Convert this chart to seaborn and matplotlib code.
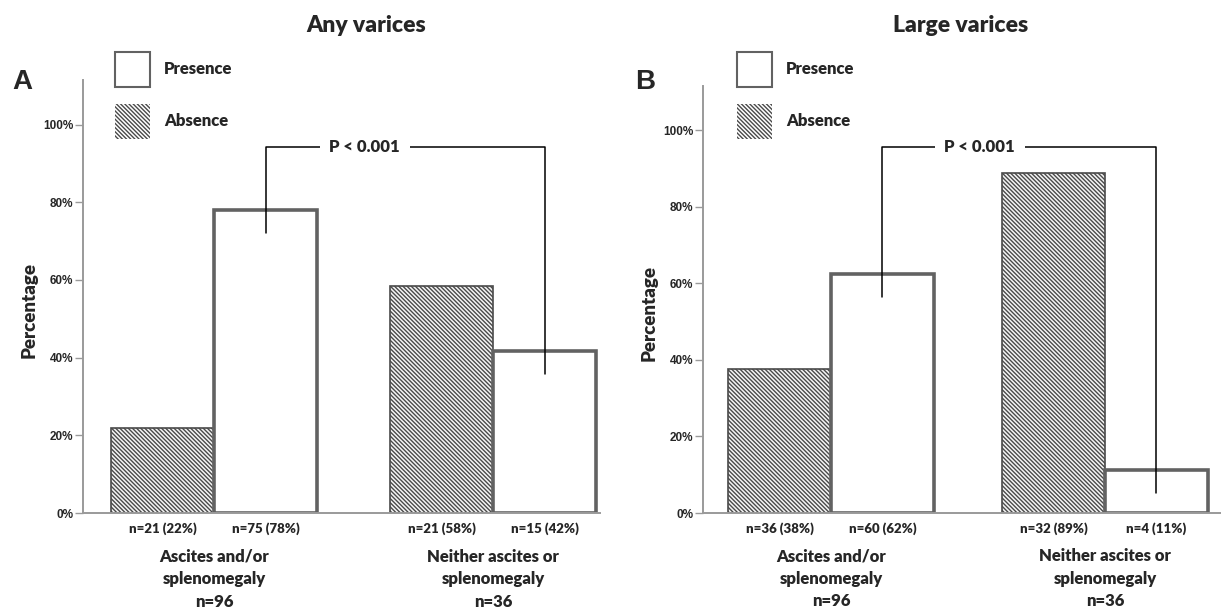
import matplotlib
matplotlib.use("Agg")
import matplotlib.pyplot as plt
import matplotlib.transforms as mtransforms
from matplotlib.patches import Patch
import pandas as pd
import seaborn as sns

# ---- data -------------------------------------------------------------
group_keys = ["Ascites and/or splenomegaly", "Neither ascites or splenomegaly"]
group_labels = ["Ascites and/or\nsplenomegaly\nn=96", "Neither ascites or\nsplenomegaly\nn=36"]
group_totals = [96, 36]
statuses = ["Absence", "Presence"]

any_absence = [21, 21]
any_presence = [75, 15]
large_absence = [36, 32]
large_presence = [60, 4]

panel_titles = ["Any varices", "Large varices"]
panel_letters = ["A", "B"]
p_value_text = "P < 0.001"
y_ticks = [0, 20, 40, 60, 80, 100]


def build_frame(absence, presence):
    rows = []
    for key, total, a, p in zip(group_keys, group_totals, absence, presence):
        for status, n in (("Absence", a), ("Presence", p)):
            pct = 100.0 * n / total
            rows.append({"group": key, "status": status, "n": n, "pct": pct,
                         "label": f"n={n} ({round(pct)}%)"})
    return pd.DataFrame(rows)


frames = [build_frame(any_absence, any_presence),
          build_frame(large_absence, large_presence)]

# ---- style ------------------------------------------------------------
sns.set_style("white")
plt.rcParams["font.family"] = ["Lato", "DejaVu Sans"]
plt.rcParams["font.weight"] = "heavy"
plt.rcParams["hatch.linewidth"] = 1.0
plt.rcParams["hatch.color"] = "#4a4a4a"

W, H = 1221, 610
fig = plt.figure(figsize=(W / 100, H / 100), dpi=100)

HATCH = "\\" * 8
ABS_EDGE = "#4a4a4a"
PRES_EDGE = "#626262"
SPINE = "#9a9a9a"
WEIGHT = "heavy"

# panel geometry in pixels: left, right, top, bottom of axes; x-limits; bar width
panels = [
    dict(left=83, right=600, top=80, bottom=513, xlim=(-0.4695, 1.383), width=0.74,
         title_x=366, letter_x=22, legend_x=115, bracket_y=94.3),
    dict(left=703, right=1221, top=86, bottom=513, xlim=(-0.467, 1.423), width=0.75,
         title_x=961, letter_x=645, legend_x=737, bracket_y=95.5),
]

for df, geo, title, letter in zip(frames, panels, panel_titles, panel_letters):
    ax = fig.add_axes([geo["left"] / W, 1 - geo["bottom"] / H,
                       (geo["right"] - geo["left"]) / W,
                       (geo["bottom"] - geo["top"]) / H])
    sns.barplot(data=df, x="group", y="pct", hue="status", order=group_keys,
                hue_order=statuses, palette={"Absence": "white", "Presence": "white"},
                saturation=1, width=geo["width"], errorbar=None, legend=False, ax=ax)

    absence_bars, presence_bars = ax.containers[0], ax.containers[1]
    for bar in absence_bars:
        bar.set_facecolor("#f4f4f4")
        bar.set_edgecolor(ABS_EDGE)
        bar.set_hatch(HATCH)
        bar.set_linewidth(1.2)
    for bar in presence_bars:
        bar.set_facecolor("white")
        bar.set_edgecolor(PRES_EDGE)
        bar.set_linewidth(2.6)

    ax.set_xlim(*geo["xlim"])
    ax.set_ylim(0, 111.5)

    # per-bar count labels become the x tick labels
    centers, labels = [], []
    for gi, key in enumerate(group_keys):
        for container, status in zip((absence_bars, presence_bars), statuses):
            bar = container[gi]
            centers.append(bar.get_x() + bar.get_width() / 2)
            labels.append(df[(df.group == key) & (df.status == status)]["label"].iloc[0])
    ax.set_xticks(centers, labels)
    ax.tick_params(axis="x", length=0, pad=7, labelsize=9.5)
    for lab in ax.get_xticklabels():
        lab.set_fontweight(WEIGHT)
    ax.set_xlabel("")

    ax.set_yticks(y_ticks, [f"{t}%" for t in y_ticks])
    ax.tick_params(axis="y", length=6, width=1, color=SPINE, pad=1, labelsize=8.5,
                   left=True)
    for lab in ax.get_yticklabels():
        lab.set_fontfamily(["Liberation Sans Narrow", "Liberation Sans", "DejaVu Sans"])
        lab.set_fontweight("bold")

    sns.despine(ax=ax, top=True, right=True)
    for side in ("left", "bottom"):
        ax.spines[side].set_color(SPINE)
        ax.spines[side].set_linewidth(1.4)

    ax.set_ylabel("Percentage", fontsize=13.5, fontweight=WEIGHT)
    ax.yaxis.set_label_coords(-0.088, 0.469)

    # group captions under the count labels
    blend = mtransforms.blended_transform_factory(ax.transData, ax.transAxes)
    for gi, text in enumerate(group_labels):
        ax.text(gi, -0.083, text, transform=blend, ha="center", va="top",
                fontsize=12, fontweight=WEIGHT, linespacing=1.5)

    # significance bracket between the two "Presence" bars
    b0, b1 = presence_bars[0], presence_bars[1]
    x0 = b0.get_x() + b0.get_width() / 2
    x1 = b1.get_x() + b1.get_width() / 2
    top = geo["bracket_y"]
    ax.plot([x0, x0, x1, x1], [b0.get_height() - 6, top, top, b1.get_height() - 6],
            color="black", lw=1.1, clip_on=False, zorder=4)
    ax.text(x0 + 0.355 * (x1 - x0), top, p_value_text, ha="center", va="center",
            fontsize=12, fontweight=WEIGHT, zorder=5,
            bbox=dict(facecolor="white", edgecolor="none", pad=7))

    # panel title and letter
    fig.text(geo["title_x"] / W, 1 - 26 / H, title, ha="center", va="center",
             fontsize=16.5, fontweight=WEIGHT)
    fig.text(geo["letter_x"] / W, 1 - 82 / H, letter, ha="center", va="center",
             fontsize=20, fontweight="bold",
             family=["Liberation Sans", "DejaVu Sans"])

    handles = [
        Patch(facecolor="white", edgecolor=PRES_EDGE, linewidth=1.5, label="Presence"),
        Patch(facecolor="white", edgecolor=ABS_EDGE, linewidth=0, hatch=HATCH,
              label="Absence"),
    ]
    fig.legend(handles=handles, loc="upper left",
               bbox_to_anchor=(geo["legend_x"] / W, 1 - 52 / H),
               frameon=False, prop={"size": 12, "weight": WEIGHT},
               handlelength=2.1, handleheight=2.85, handletextpad=0.85,
               labelspacing=1.0, borderpad=0, borderaxespad=0)

fig.savefig("out.png", dpi=100)
